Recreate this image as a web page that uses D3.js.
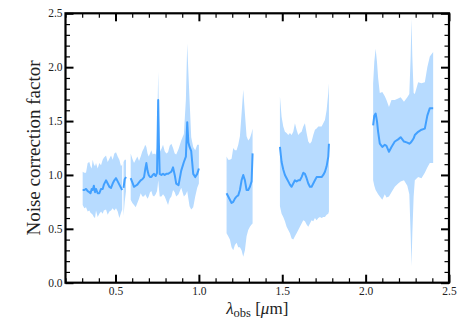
<!DOCTYPE html>
<html>
<head>
<meta charset="utf-8">
<script src="https://cdn.jsdelivr.net/npm/d3@7"></script>
<style>
  body { margin: 0; background: #fff; }
  svg text { font-family: "Liberation Serif", "DejaVu Serif", serif; fill: #222; }
</style>
</head>
<body>
<div class="graph"></div>
<script>
// observed wavelength (micron); null rows in the value arrays split the segments
const lam = [
  // 0.30 - 0.57
  0.303,0.313,0.323,0.333,0.343,0.350,0.357,0.363,0.370,0.377,0.383,0.393,0.403,0.413,0.423,0.430,0.443,0.453,0.463,0.473,0.483,0.493,0.503,0.513,0.523,0.533,0.540,
  0.544, 0.548,0.555,0.563, 0.575,
  // 0.59 - 1.00
  0.591,0.601,0.611,0.621,0.631,0.641,0.651,0.661,0.671,0.678,0.685,0.692,0.699,0.707,0.715,0.723,0.731,0.741,0.749,0.753,0.756,0.760,0.765,0.775,0.785,0.795,0.805,0.815,0.825,0.835,0.845,0.855,0.864,0.878,0.894,0.910,0.922,0.930,0.937,0.944,0.954,0.966,0.978,0.990,1.000,
  1.08,
  // 1.17 - 1.32
  1.166,1.176,1.186,1.196,1.206,1.216,1.226,1.236,1.246,1.256,1.266,1.276,1.286,1.296,1.306,1.316,1.322,
  1.40,
  // 1.49 - 1.78
  1.486,1.496,1.506,1.516,1.526,1.536,1.546,1.556,1.566,1.576,1.586,1.596,1.606,1.616,1.626,1.636,1.646,1.656,1.666,1.676,1.686,1.696,1.706,1.716,1.726,1.736,1.746,1.756,1.766,1.776,1.780,
  1.90,
  // 2.05 - 2.41
  2.045,2.052,2.060,2.068,2.075,2.085,2.100,2.115,2.125,2.140,2.155,2.175,2.195,2.210,2.230,2.250,2.262,2.270,2.275,2.280,2.288,2.295,2.315,2.335,2.355,2.370,2.385,2.405
];

// median noise correction factor
const factor = [
  0.86,0.86,0.87,0.85,0.84,0.83,0.87,0.86,0.90,0.84,0.87,0.83,0.83,0.87,0.87,0.91,0.95,0.92,0.89,0.88,0.92,0.95,0.97,0.94,0.91,0.88,0.86,
  null, 0.88,0.96,0.98, null,
  0.97,0.93,0.89,0.90,0.91,0.93,0.95,0.96,0.98,1.05,1.11,1.04,1.00,0.98,0.98,1.00,1.01,0.99,1.02,1.40,1.695,1.30,1.01,1.00,1.01,1.00,1.01,1.01,1.02,1.03,1.07,1.00,0.92,0.905,1.04,1.12,1.17,1.49,1.30,1.26,1.22,1.01,0.98,1.01,1.06,
  null,
  0.83,0.80,0.77,0.74,0.75,0.78,0.80,0.81,0.86,0.95,1.00,0.95,0.86,0.86,0.89,0.94,1.20,
  null,
  1.26,1.12,1.05,1.00,0.97,0.94,0.91,0.89,0.92,0.95,0.94,0.95,0.95,0.98,1.02,1.01,0.97,0.92,0.89,0.89,0.92,0.95,0.98,0.98,0.98,0.98,1.00,1.03,1.08,1.17,1.29,
  null,
  1.46,1.55,1.57,1.50,1.40,1.29,1.26,1.28,1.27,1.215,1.26,1.31,1.33,1.35,1.31,1.30,1.29,1.30,1.31,1.32,1.34,1.37,1.40,1.42,1.43,1.55,1.62,1.62
];

// lower edge of the shaded range
const lower = [
  0.72,0.69,0.70,0.66,0.67,0.65,0.64,0.63,0.61,0.60,0.67,0.61,0.64,0.66,0.64,0.67,0.68,0.63,0.66,0.67,0.69,0.67,0.69,0.66,0.60,0.65,0.68,
  null, 0.62,0.75,0.85, null,
  0.77,0.74,0.72,0.70,0.74,0.78,0.83,0.80,0.80,0.82,0.80,0.78,0.80,0.84,0.85,0.81,0.80,0.82,0.85,0.90,0.95,0.88,0.80,0.80,0.82,0.80,0.76,0.72,0.78,0.80,0.86,0.84,0.80,0.82,0.88,0.80,0.82,0.85,0.78,0.71,0.68,0.70,0.80,0.88,0.92,
  null,
  0.46,0.43,0.40,0.33,0.30,0.35,0.37,0.33,0.33,0.30,0.24,0.30,0.43,0.49,0.52,0.54,0.55,
  null,
  0.71,0.64,0.61,0.57,0.52,0.49,0.46,0.41,0.40,0.43,0.46,0.49,0.52,0.55,0.58,0.57,0.54,0.52,0.55,0.58,0.57,0.60,0.58,0.60,0.61,0.60,0.61,0.61,0.63,0.64,0.66,
  null,
  0.95,0.90,0.86,0.84,0.82,0.80,0.77,0.82,0.79,0.80,0.84,0.89,0.92,0.94,0.95,0.90,0.82,0.45,0.15,0.45,0.80,0.95,0.98,0.97,1.02,1.07,1.11,1.11
];

// upper edge of the shaded range
const upper = [
  1.03,1.02,1.02,1.11,1.12,1.08,1.06,1.14,1.10,1.08,1.11,1.06,1.11,1.09,1.14,1.16,1.18,1.12,1.15,1.18,1.14,1.20,1.21,1.17,1.14,1.08,1.10,
  null, 1.12,1.14,1.14, null,
  1.20,1.15,1.11,1.14,1.17,1.13,1.17,1.22,1.25,1.28,1.26,1.20,1.17,1.20,1.23,1.19,1.20,1.19,1.25,1.70,1.96,1.60,1.21,1.24,1.28,1.22,1.20,1.21,1.27,1.29,1.25,1.20,1.19,1.24,1.32,1.38,1.70,2.22,1.95,1.70,1.35,1.26,1.23,1.28,1.28,
  null,
  1.17,1.14,1.14,1.15,1.25,1.23,1.23,1.28,1.36,1.57,1.79,1.57,1.36,1.32,1.34,1.39,1.43,
  null,
  1.73,1.54,1.45,1.40,1.39,1.37,1.39,1.37,1.40,1.48,1.42,1.37,1.39,1.40,1.45,1.48,1.39,1.31,1.29,1.31,1.37,1.42,1.43,1.45,1.45,1.45,1.48,1.51,1.60,1.76,1.85,
  null,
  1.85,2.05,2.17,2.05,1.90,1.76,1.77,1.73,1.695,1.63,1.695,1.695,1.71,1.72,1.68,1.72,1.75,2.10,2.45,2.10,1.76,1.75,1.86,1.85,1.86,2.00,2.10,2.14
];

const xMajor = [0.5, 1.0, 1.5, 2.0, 2.5];
const yMajor = [0.0, 0.5, 1.0, 1.5, 2.0, 2.5];

// dimensions
const W = 469, H = 329;
const margin = { top: 13.3, right: 20, bottom: 46.3, left: 65.5 };
const width = W - margin.left - margin.right;
const height = H - margin.top - margin.bottom;

const lineColour = "rgb(66,160,255)";
const bandColour = "rgb(183,219,255)";

const svg = d3.select(".graph")
    .append("svg")
    .attr("width", W)
    .attr("height", H)
    .append("g")
    .attr("transform", "translate(" + margin.left + "," + margin.top + ")");

const x = d3.scaleLinear().domain([0.2, 2.5]).range([0, width]);
const y = d3.scaleLinear().domain([0, 2.5]).range([height, 0]);

const data = lam.map((l, i) => ({ lam: l, v: factor[i], lo: lower[i], hi: upper[i] }));

svg.append("clipPath").attr("id", "clip")
    .append("rect").attr("width", width).attr("height", height);

const plot = svg.append("g").attr("clip-path", "url(#clip)");

// shaded range
plot.append("path")
    .datum(data)
    .attr("fill", bandColour)
    .attr("d", d3.area()
        .defined(d => d.v != null)
        .x(d => x(d.lam))
        .y0(d => y(d.lo))
        .y1(d => y(d.hi)));

// median line
plot.append("path")
    .datum(data)
    .attr("fill", "none")
    .attr("stroke", lineColour)
    .attr("stroke-width", 2)
    .attr("stroke-linejoin", "round")
    .attr("d", d3.line()
        .defined(d => d.v != null)
        .x(d => x(d.lam))
        .y(d => y(d.v)));

// ticks on all four sides, pointing inwards
const xMinor = d3.range(2, 26).map(i => i / 10).filter(v => !xMajor.some(m => Math.abs(m - v) < 1e-6));
const yMinor = d3.range(0, 26).map(i => i / 10).filter(v => !yMajor.some(m => Math.abs(m - v) < 1e-6));
const fmt = d3.format(".1f");

function styleAxis(g, w) {
    g.select(".domain").remove();
    g.selectAll("line").attr("stroke", "#000").attr("stroke-width", w);
    g.selectAll("text").attr("font-size", 11.5).attr("fill", "#222").style("font-family", '"Liberation Serif", serif');
}

svg.append("g").attr("transform", "translate(0," + height + ")")
    .call(d3.axisBottom(x).tickValues(xMinor).tickSize(-4.5).tickFormat(""))
    .call(g => styleAxis(g, 1.2));
svg.append("g").attr("transform", "translate(0," + height + ")")
    .call(d3.axisBottom(x).tickValues(xMajor).tickSize(-8).tickPadding(4).tickFormat(fmt))
    .call(g => styleAxis(g, 2));
svg.append("g")
    .call(d3.axisTop(x).tickValues(xMinor).tickSize(-4.5).tickFormat(""))
    .call(g => styleAxis(g, 1.2));
svg.append("g")
    .call(d3.axisTop(x).tickValues(xMajor).tickSize(-8).tickFormat(""))
    .call(g => styleAxis(g, 2));

svg.append("g")
    .call(d3.axisLeft(y).tickValues(yMinor).tickSize(-4.5).tickFormat(""))
    .call(g => styleAxis(g, 1.2));
svg.append("g")
    .call(d3.axisLeft(y).tickValues(yMajor).tickSize(-8).tickPadding(3).tickFormat(fmt))
    .call(g => styleAxis(g, 2));
svg.append("g").attr("transform", "translate(" + width + ",0)")
    .call(d3.axisRight(y).tickValues(yMinor).tickSize(-4.5).tickFormat(""))
    .call(g => styleAxis(g, 1.2));
svg.append("g").attr("transform", "translate(" + width + ",0)")
    .call(d3.axisRight(y).tickValues(yMajor).tickSize(-8).tickFormat(""))
    .call(g => styleAxis(g, 2));

// frame
svg.append("rect")
    .attr("width", width)
    .attr("height", height)
    .attr("fill", "none")
    .attr("stroke", "#000")
    .attr("stroke-width", 2.2);

// axis labels
svg.append("text")
    .attr("transform", "translate(" + (39.5 - margin.left) + "," + (height / 2) + ") rotate(-90)")
    .attr("text-anchor", "middle")
    .attr("font-size", 19)
    .text("Noise correction factor");

const xl = svg.append("text")
    .attr("x", width / 2)
    .attr("y", 314 - margin.top)
    .attr("text-anchor", "middle")
    .attr("font-size", 17);
xl.append("tspan").attr("font-style", "italic").text("λ");
xl.append("tspan").attr("font-size", 12.5).attr("dy", 3).text("obs");
xl.append("tspan").attr("dy", -3).text(" [");
xl.append("tspan").attr("font-style", "italic").text("μ");
xl.append("tspan").text("m]");
</script>
</body>
</html>
